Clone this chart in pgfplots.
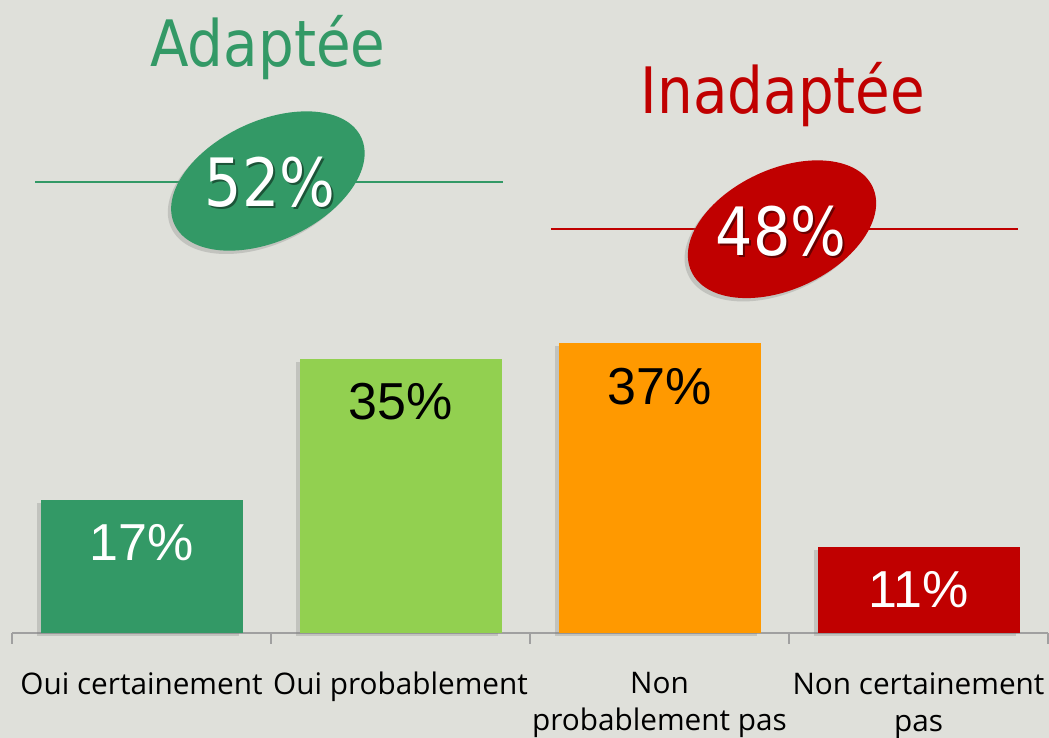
\documentclass[border=0pt]{standalone}
\usepackage{pgfplots}
\pgfplotsset{compat=1.18}
\usepackage{fontspec}
\setmainfont{Open Sans}
\newfontfamily\tahoma{DejaVu Sans}[FakeStretch=0.88]
\newfontfamily\arialf{Liberation Sans}
\usetikzlibrary{shadows}
\definecolor{bg}{RGB}{223,224,218}
\definecolor{cgreen}{RGB}{51,153,102}
\definecolor{clight}{RGB}{146,208,80}
\definecolor{corange}{RGB}{255,153,0}
\definecolor{cred}{RGB}{192,0,0}
\definecolor{axgray}{RGB}{160,160,160}
\begin{document}
\begin{tikzpicture}
\fill[bg] (-9pt,-78.75pt) rectangle (777.75pt,474.75pt);
\useasboundingbox (-9pt,-78.75pt) rectangle (777.75pt,474.75pt);
\begin{axis}[
  at={(0,0)}, anchor=south west,
  width=777pt, height=474.75pt, scale only axis,
  xmin=-0.5, xmax=3.5, ymin=0, ymax=80.74,
  axis x line*=bottom, axis y line=none,
  x axis line style={draw=axgray, line width=1pt},
  xtick={0,1,2,3},
  xticklabels={{Oui certainement},{Oui probablement},{Non\\probablement pas},{Non certainement\\pas}},
  major tick length=0pt,
  minor xtick={-0.5,0.5,1.5,2.5,3.5},
  minor tick length=8pt,
  tick align=outside,
  minor tick style={draw=axgray, line width=1pt},
  xticklabel style={align=center, font=\fontsize{22.3}{27.7}\selectfont, text=black, yshift=-26pt},
  ybar, bar width=151.5pt, bar shift=0pt,
  clip=false,
  /pgf/number format/assume math mode=true,
  nodes near coords={\pgfmathprintnumber{\pgfplotspointmeta}\%},
  every node near coord/.append style={anchor=center, yshift=-32.5pt, font=\arialf\fontsize{39}{39}\selectfont},
  ]
\addplot[fill=cgreen, draw=none, drop shadow={shadow xshift=-2.5pt, shadow yshift=-2.5pt, opacity=0.3}, nodes near coords style={text=white}] coordinates {(0,17)};
\addplot[fill=clight, draw=none, drop shadow={shadow xshift=-2.5pt, shadow yshift=-2.5pt, opacity=0.3}, nodes near coords style={text=black}] coordinates {(1,35)};
\addplot[fill=corange, draw=none, drop shadow={shadow xshift=-2.5pt, shadow yshift=-2.5pt, opacity=0.3}, nodes near coords style={text=black}] coordinates {(2,37)};
\addplot[fill=cred, draw=none, drop shadow={shadow xshift=-2.5pt, shadow yshift=-2.5pt, opacity=0.3}, nodes near coords style={text=white}] coordinates {(3,11)};
\draw[draw=cgreen, line width=1.5pt] (axis cs:-0.411,57.5) -- (axis cs:1.396,57.5);
\draw[draw=cred, line width=1.5pt] (axis cs:1.581,51.5) -- (axis cs:3.384,51.5);
\node[anchor=base, text=cgreen, font=\tahoma\fontsize{48}{48}\selectfont] at (axis cs:0.488,72.3) {Adaptée};
\node[anchor=base, text=cred, font=\tahoma\fontsize{48}{48}\selectfont] at (axis cs:2.477,66.2) {Inadaptée};
\coordinate (ge) at (axis cs:0.488,57.65);
\coordinate (gt) at (axis cs:0.496,57.5);
\coordinate (re) at (axis cs:2.473,51.5);
\coordinate (rt) at (axis cs:2.469,51.2);
\end{axis}
\fill[cgreen, rotate around={25:(ge)}, drop shadow={shadow xshift=-2.5pt, shadow yshift=-2.5pt, opacity=0.3}] (ge) ellipse [x radius=77.25pt, y radius=45pt];
\fill[cred, rotate around={25:(re)}, drop shadow={shadow xshift=-2.5pt, shadow yshift=-2.5pt, opacity=0.3}] (re) ellipse [x radius=75pt, y radius=45pt];
\node[font=\tahoma\fontsize{50}{50}\selectfont, text=black, opacity=0.45] at ([xshift=1.5pt,yshift=-1.5pt]gt) {52\%};
\node[font=\tahoma\fontsize{50}{50}\selectfont, text=white] at (gt) {52\%};
\node[font=\tahoma\fontsize{50}{50}\selectfont, text=black, opacity=0.45] at ([xshift=1.5pt,yshift=-1.5pt]rt) {48\%};
\node[font=\tahoma\fontsize{50}{50}\selectfont, text=white] at (rt) {48\%};
\end{tikzpicture}
\end{document}
